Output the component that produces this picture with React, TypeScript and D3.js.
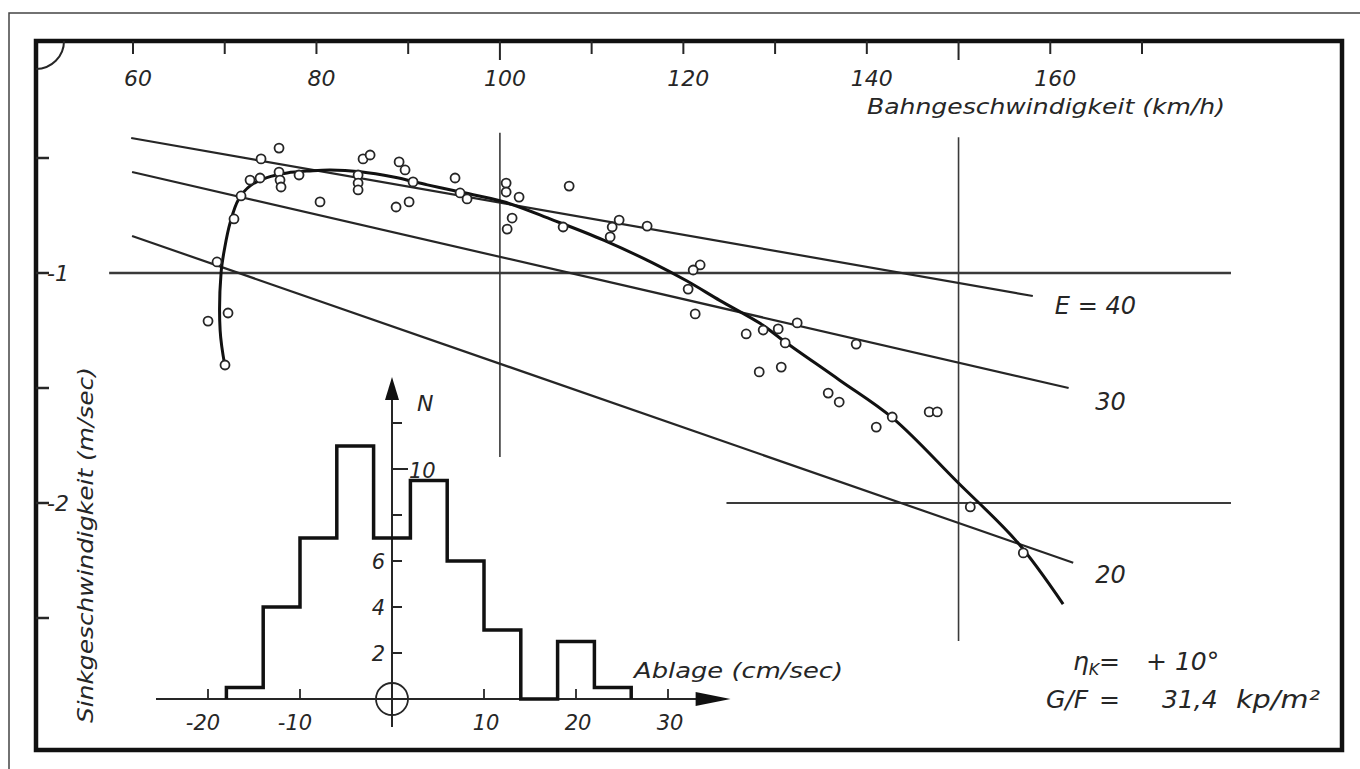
import React, { useEffect, useRef } from 'react';
import * as d3 from 'd3';

// polar curve: Bahngeschwindigkeit (km/h), Sinkgeschwindigkeit (m/s)
const polarCurve: [number, number][] = [
  [70.0, -1.40], [69.5, -1.25], [69.6, -1.0], [70.0, -0.89], [70.6, -0.78],
  [71.5, -0.68], [72.8, -0.62], [74.6, -0.585], [76.8, -0.565], [79.3, -0.556],
  [81.5, -0.552], [84.8, -0.56], [88.4, -0.583], [92.1, -0.617], [95.7, -0.648],
  [100.4, -0.69], [105.8, -0.77], [111.3, -0.857], [116.7, -0.957], [120.4, -1.035],
  [124.0, -1.12], [128.4, -1.22], [131.1, -1.30], [137.0, -1.465], [142.8, -1.63],
  [149.9, -1.91], [156.4, -2.17], [161.4, -2.44],
];

// measured points
const measured: [number, number][] = [
  [73.96, -0.504], [75.92, -0.457], [72.76, -0.596], [73.85, -0.587], [75.92, -0.561],
  [76.03, -0.596], [76.14, -0.626], [78.1, -0.574], [71.78, -0.665], [71.01, -0.765],
  [69.16, -0.952], [70.36, -1.174], [68.18, -1.209], [70.03, -1.4], [80.39, -0.691],
  [85.08, -0.504], [85.85, -0.487], [84.54, -0.574], [84.54, -0.609], [84.54, -0.639],
  [89.01, -0.517], [89.66, -0.552], [90.53, -0.604], [88.68, -0.713], [90.1, -0.691],
  [95.11, -0.587], [95.66, -0.652], [96.42, -0.678], [100.68, -0.609], [100.68, -0.648],
  [102.09, -0.67], [101.33, -0.761], [100.79, -0.809], [107.55, -0.622], [106.89, -0.8],
  [113.0, -0.77], [112.24, -0.8], [112.02, -0.843], [116.05, -0.796], [121.83, -0.965],
  [121.07, -0.987], [120.52, -1.07], [121.29, -1.178], [126.85, -1.265], [128.7, -1.248],
  [130.34, -1.243], [132.41, -1.217], [131.1, -1.304], [138.84, -1.309], [128.27, -1.43],
  [130.67, -1.409], [135.79, -1.522], [136.99, -1.561], [142.77, -1.626], [141.03, -1.67],
  [146.8, -1.604], [147.68, -1.604], [151.28, -2.017], [157.06, -2.217],
];

// glide ratio lines E
const glideLabels = ['E = 40', '30', '20'];
const glideStart: [number, number][] = [[59.8, -0.413], [59.9, -0.561], [59.9, -0.839]];
const glideEnd: [number, number][] = [[158.1, -1.1], [162.0, -1.5], [162.5, -2.26]];
const glideLabelAt: [number, number][] = [[160.5, -1.14], [164.9, -1.555], [164.9, -2.31]];

// reference cross lines
const hRefs: [number, number, number][] = [[-1, 57.4, 179.7], [-2, 124.7, 179.7]];
const vRefs: [number, number, number][] = [[100, -0.39, -1.8], [150, -0.41, -2.6]];

const speedTicks = [60, 70, 80, 90, 100, 110, 120, 130, 140, 150, 160, 170];
const speedLabels = [60, 80, 100, 120, 140, 160];
const sinkTicks = [-0.5, -1, -1.5, -2, -2.5];
const sinkLabels = [-1, -2];

// histogram of Ablage (cm/sec)
const histEdges = [-18, -14, -10, -6, -2, 2, 6, 10, 14, 18, 22, 26];
const histCounts = [0.5, 4, 7, 11, 7, 9.5, 6, 3, 0, 2.5, 0.5];
const histXTicks = [-20, -10, 10, 20, 30];
const histYTicks = [2, 4, 6, 8, 10, 12];
const histYLabels = [2, 4, 6, 10];

const INK = '#262626';
const FONT = '"DejaVu Sans", sans-serif';

const App: React.FC = () => {
  const svgRef = useRef<SVGSVGElement>(null);

  useEffect(() => {
    if (!svgRef.current) return;
    const svg = d3.select(svgRef.current);
    svg.selectAll('*').remove();

    const x = d3.scaleLinear().domain([60, 170]).range([133, 1142]);
    const y = d3.scaleLinear().domain([0, -3]).range([43, 733]);

    const txt = (g: any, s: string, px: number, py: number, size = 22, anchor = 'start') =>
      g.append('text')
        .attr('x', px).attr('y', py)
        .attr('font-family', FONT).attr('font-style', 'italic')
        .attr('font-size', size).attr('fill', INK)
        .attr('text-anchor', anchor)
        .text(s);

    svg.append('rect').attr('width', 1360).attr('height', 769).attr('fill', '#fff');

    // outer thin frame
    svg.append('rect')
      .attr('x', 9).attr('y', 13).attr('width', 1400).attr('height', 800)
      .attr('fill', 'none').attr('stroke', '#444').attr('stroke-width', 1.5);

    // thick frame
    svg.append('rect')
      .attr('x', 36).attr('y', 41).attr('width', 1306).attr('height', 709)
      .attr('fill', 'none').attr('stroke', '#111').attr('stroke-width', 4.5);

    // corner arc
    svg.append('path')
      .attr('d', 'M36,69 A28,28 0 0 0 64,41')
      .attr('fill', 'none').attr('stroke', INK).attr('stroke-width', 2);

    // top axis ticks
    svg.append('g').selectAll('line').data(speedTicks).enter().append('line')
      .attr('x1', d => x(d)).attr('x2', d => x(d))
      .attr('y1', 41).attr('y2', d => (d === 100 || d === 150 ? 60 : 54))
      .attr('stroke', INK).attr('stroke-width', 2);
    const topLab = svg.append('g');
    speedLabels.forEach(v => txt(topLab, String(v), x(v) + 5, 86, 22, 'middle'));
    txt(svg, 'Bahngeschwindigkeit (km/h)', 867, 114, 21).attr('textLength', 358).attr('lengthAdjust', 'spacingAndGlyphs');

    // left axis ticks (the minus of the label continues the tick)
    svg.append('g').selectAll('line').data(sinkTicks).enter().append('line')
      .attr('x1', 36).attr('x2', 49)
      .attr('y1', d => y(d)).attr('y2', d => y(d))
      .attr('stroke', INK).attr('stroke-width', 2.5);
    const leftLab = svg.append('g');
    sinkLabels.forEach(s => txt(leftLab, String(s), 47, y(s) + 8, 22));
    txt(svg, 'Sinkgeschwindigkeit (m/sec)', 0, 0, 21, 'middle')
      .attr('transform', 'translate(93,545) rotate(-90)')
      .attr('textLength', 356).attr('lengthAdjust', 'spacingAndGlyphs');

    // reference lines
    const refs = svg.append('g').attr('stroke', '#3a3a3a');
    hRefs.forEach(([s, v0, v1]) => refs.append('line')
      .attr('x1', x(v0)).attr('x2', x(v1)).attr('y1', y(s)).attr('y2', y(s))
      .attr('stroke-width', s === -1 ? 2.6 : 2));
    vRefs.forEach(([v, s0, s1]) => refs.append('line')
      .attr('x1', x(v)).attr('x2', x(v)).attr('y1', y(s0)).attr('y2', y(s1))
      .attr('stroke-width', 1.6));

    // glide ratio lines
    const gl = svg.append('g');
    glideStart.forEach((p, i) => {
      gl.append('line')
        .attr('x1', x(p[0])).attr('y1', y(p[1]))
        .attr('x2', x(glideEnd[i][0])).attr('y2', y(glideEnd[i][1]))
        .attr('stroke', INK).attr('stroke-width', 2.2);
      txt(gl, glideLabels[i], x(glideLabelAt[i][0]), y(glideLabelAt[i][1]) + 9, 24);
    });

    // polar curve
    const line = d3.line<[number, number]>()
      .x(d => x(d[0])).y(d => y(d[1]))
      .curve(d3.curveCatmullRom.alpha(0.5));
    svg.append('path').datum(polarCurve)
      .attr('d', line).attr('fill', 'none')
      .attr('stroke', '#111').attr('stroke-width', 3);

    // points
    svg.append('g').selectAll('circle').data(measured).enter().append('circle')
      .attr('cx', d => x(d[0])).attr('cy', d => y(d[1])).attr('r', 4.5)
      .attr('fill', '#fff').attr('stroke', INK).attr('stroke-width', 1.8);

    // histogram inset
    const hx = d3.scaleLinear().domain([-20, 30]).range([208, 668]);
    const hy = d3.scaleLinear().domain([0, 12]).range([699, 423]);
    const h = svg.append('g');

    h.append('line').attr('x1', 156).attr('x2', 700).attr('y1', hy(0)).attr('y2', hy(0))
      .attr('stroke', INK).attr('stroke-width', 2.2);
    h.append('path')
      .attr('d', `M${hx(36.8)},${hy(0)} L${hx(33)},${hy(0) - 7} L${hx(33)},${hy(0) + 7} Z`)
      .attr('fill', '#111');
    h.append('line').attr('x1', hx(0)).attr('x2', hx(0)).attr('y1', 727).attr('y2', 398)
      .attr('stroke', INK).attr('stroke-width', 2);
    h.append('path')
      .attr('d', `M${hx(0)},${hy(14)} L${hx(0) - 7},${hy(13)} L${hx(0) + 7},${hy(13)} Z`)
      .attr('fill', '#111');
    h.append('circle').attr('cx', hx(0)).attr('cy', hy(0)).attr('r', 16)
      .attr('fill', 'none').attr('stroke', INK).attr('stroke-width', 1.8);

    h.selectAll('.xt').data(histXTicks).enter().append('line')
      .attr('x1', d => hx(d)).attr('x2', d => hx(d))
      .attr('y1', hy(0)).attr('y2', hy(0) - 10)
      .attr('stroke', INK).attr('stroke-width', 1.8);
    histXTicks.forEach(v => txt(h, String(v), hx(v) + (v < 0 ? -5 : 2), 730, 21, 'middle'));

    h.selectAll('.yt').data(histYTicks).enter().append('line')
      .attr('x1', hx(0)).attr('x2', d => hx(0) + (d === 10 ? 16 : 10))
      .attr('y1', d => hy(d)).attr('y2', d => hy(d))
      .attr('stroke', INK).attr('stroke-width', 2);
    histYLabels.forEach(n => {
      if (n === 10) txt(h, String(n), hx(0) + 17, hy(n) + 9, 21);
      else txt(h, String(n), hx(0) - 7, hy(n) + 8, 21, 'end');
    });
    txt(h, 'N', hx(0) + 25, 411, 22);
    txt(h, 'Ablage (cm/sec)', 634, 678, 21).attr('textLength', 209).attr('lengthAdjust', 'spacingAndGlyphs');

    const steps: [number, number][] = [[histEdges[0], 0]];
    histCounts.forEach((c, i) => {
      steps.push([histEdges[i], c]);
      steps.push([histEdges[i + 1], c]);
    });
    steps.push([histEdges[histEdges.length - 1], 0]);
    h.append('path').datum(steps)
      .attr('d', d3.line<[number, number]>().x(d => hx(d[0])).y(d => hy(d[1])))
      .attr('fill', 'none').attr('stroke', '#111').attr('stroke-width', 3.5)
      .attr('stroke-linejoin', 'miter');

    // annotation
    const ann = svg.append('g');
    const eta = txt(ann, 'η', 1073, 670, 25);
    eta.append('tspan').attr('font-size', 16).attr('dy', 5).text('K');
    txt(ann, '=', 1099, 670, 25);
    txt(ann, '+ 10°', 1146, 670, 25);
    txt(ann, 'G/F', 1046, 708, 25);
    txt(ann, '=', 1099, 708, 25);
    txt(ann, '31,4', 1162, 708, 25);
    txt(ann, 'kp/m²', 1236, 708, 25).attr('textLength', 84).attr('lengthAdjust', 'spacingAndGlyphs');
  }, []);

  return (
    <div style={{ position: 'absolute', left: 0, top: 0 }}>
      <svg ref={svgRef} width={1360} height={769} style={{ display: 'block' }} />
    </div>
  );
};

export default App;
